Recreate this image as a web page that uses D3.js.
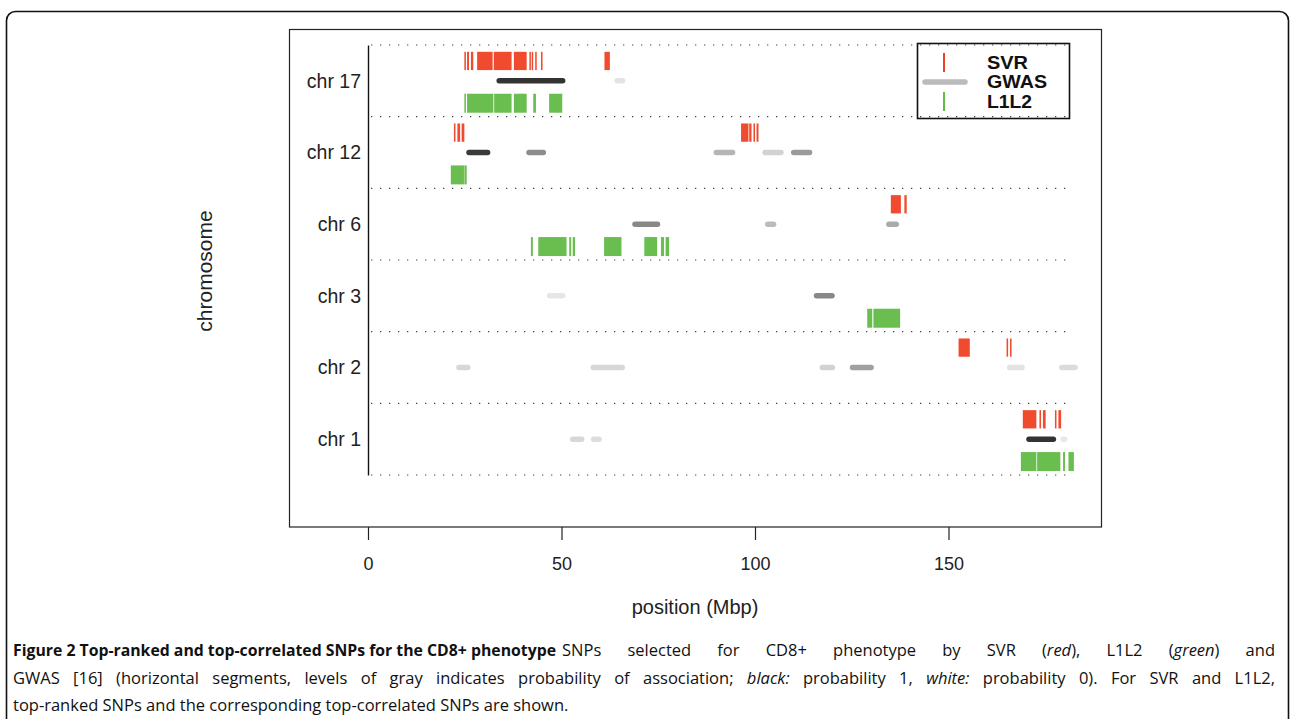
<!DOCTYPE html>
<html>
<head>
<meta charset="utf-8">
<script src="https://cdn.jsdelivr.net/npm/d3@7"></script>
<style>
  body { margin: 0; background: #fff; }
  #chart { position: relative; width: 1290px; height: 719px; overflow: hidden; }
</style>
</head>
<body>
<div id="chart"></div>
<script>
// chromosomes, bottom to top
const chromosomes = ["chr 1", "chr 2", "chr 3", "chr 6", "chr 12", "chr 17"];
const xTicks = [0, 50, 100, 150];
const chromExtent = [0, 181.5];

// SVR top-ranked SNPs: [chromosome, start, end] (Mbp)
const svrSnps = [
  ["chr 17", 24.9, 25.3], ["chr 17", 25.6, 26.1], ["chr 17", 26.6, 27.2], ["chr 17", 28.2, 32.2],
  ["chr 17", 32.5, 37.1], ["chr 17", 37.7, 41.0], ["chr 17", 41.7, 42.0], ["chr 17", 42.3, 42.6],
  ["chr 17", 43.2, 43.6], ["chr 17", 44.7, 45.1], ["chr 17", 61.1, 62.5],
  ["chr 12", 22.2, 22.6], ["chr 12", 23.1, 23.8], ["chr 12", 24.2, 24.9], ["chr 12", 96.4, 98.3],
  ["chr 12", 98.5, 99.1], ["chr 12", 99.6, 100.0], ["chr 12", 100.4, 100.9],
  ["chr 6", 135.1, 137.7], ["chr 6", 138.6, 139.2],
  ["chr 2", 152.6, 155.5], ["chr 2", 165.0, 165.4], ["chr 2", 165.9, 166.3],
  ["chr 1", 169.2, 172.7], ["chr 1", 173.5, 173.9], ["chr 1", 174.4, 175.1],
  ["chr 1", 177.5, 177.9], ["chr 1", 178.4, 179.1]
];

// L1L2 top-ranked SNPs: [chromosome, start, end] (Mbp)
const l1l2Snps = [
  ["chr 17", 24.9, 25.3], ["chr 17", 25.6, 32.4], ["chr 17", 32.6, 37.1], ["chr 17", 37.7, 41.0],
  ["chr 17", 42.7, 43.4], ["chr 17", 46.8, 50.2],
  ["chr 12", 21.4, 24.8], ["chr 12", 24.9, 25.5],
  ["chr 6", 42.1, 42.6], ["chr 6", 44.0, 51.3], ["chr 6", 52.0, 52.5], ["chr 6", 52.9, 53.5],
  ["chr 6", 61.0, 65.5], ["chr 6", 71.4, 74.7], ["chr 6", 75.7, 76.5], ["chr 6", 76.9, 77.8],
  ["chr 3", 129.0, 130.3], ["chr 3", 130.6, 137.5],
  ["chr 1", 168.7, 172.7], ["chr 1", 172.9, 178.9], ["chr 1", 179.6, 180.1], ["chr 1", 181.0, 182.4]
];

// GWAS segments: [chromosome, start, end, probability of association]
const gwasSegments = [
  ["chr 17", 33.9, 50.3, 0.96], ["chr 17", 64.4, 65.8, 0.13],
  ["chr 12", 26.1, 30.9, 0.93], ["chr 12", 41.6, 45.3, 0.54], ["chr 12", 90.0, 94.2, 0.35],
  ["chr 12", 102.6, 106.7, 0.21], ["chr 12", 110.0, 114.1, 0.47],
  ["chr 6", 69.0, 74.8, 0.56], ["chr 6", 103.3, 104.8, 0.32], ["chr 6", 134.6, 136.5, 0.40],
  ["chr 3", 46.9, 50.3, 0.12], ["chr 3", 115.9, 119.9, 0.56],
  ["chr 2", 23.5, 25.8, 0.19], ["chr 2", 58.2, 65.7, 0.19], ["chr 2", 117.4, 120.0, 0.21],
  ["chr 2", 125.2, 130.0, 0.45], ["chr 2", 165.8, 169.0, 0.13], ["chr 2", 179.3, 182.7, 0.17],
  ["chr 1", 52.9, 55.2, 0.19], ["chr 1", 58.3, 59.7, 0.16], ["chr 1", 170.8, 177.1, 0.96],
  ["chr 1", 179.6, 180.0, 0.11]
];

const legendLabels = ["SVR", "GWAS", "L1L2"];

// caption title and text lines: [text, style] pieces
const captionTitle = "Figure 2 Top-ranked and top-correlated SNPs for the CD8+ phenotype";
const captionLines = [
  [["SNPs selected for CD8+ phenotype by SVR (", ""], ["red", "i"], ["), L1L2 (", ""],
   ["green", "i"], [") and", ""]],
  [["GWAS [16] (horizontal segments, levels of gray indicates probability of association; ", ""],
   ["black:", "i"], [" probability 1, ", ""], ["white:", "i"],
   [" probability 0). For SVR and L1L2,", ""]],
  [["top-ranked SNPs and the corresponding top-correlated SNPs are shown.", ""]]
];

const RED = "#ef4123", GREEN = "#62bb46";
const font = "'Liberation Sans', Arial, sans-serif";

const svg = d3.select("#chart").append("svg")
  .attr("width", 1290).attr("height", 719);

const x = d3.scaleLinear().domain([0, 150]).range([368, 948.5]);
const y = d3.scaleLinear().domain([-0.5, chromosomes.length - 0.5]).range([475, 45]);
const row = c => chromosomes.indexOf(c);
const gray = d3.scaleLinear().domain([0, 1]).range(["#ffffff", "#2b2b2b"]);

// outer figure frame
svg.append("rect")
  .attr("x", 6.5).attr("y", 11.5).attr("width", 1282).attr("height", 800).attr("rx", 9)
  .attr("fill", "none").attr("stroke", "#111").attr("stroke-width", 1.6);

// plot box
svg.append("rect")
  .attr("x", 289.5).attr("y", 29.5).attr("width", 812).attr("height", 497.5)
  .attr("fill", "none").attr("stroke", "#222").attr("stroke-width", 1.2);

// dotted separators between chromosomes
const bounds = chromosomes.map((c, i) => i - 0.5).concat(chromosomes.length - 0.5);
svg.append("g").selectAll("line").data(bounds).join("line")
  .attr("x1", x(chromExtent[0]) + 3).attr("x2", x(chromExtent[1]))
  .attr("y1", d => y(d)).attr("y2", d => y(d))
  .attr("stroke", "#444").attr("stroke-width", 1.1)
  .attr("stroke-dasharray", "1.3,7.7");

// x axis
const xAxis = svg.append("g")
  .attr("transform", "translate(0,527)")
  .call(d3.axisBottom(x).tickValues(xTicks).tickSize(13).tickPadding(17));
xAxis.select(".domain").remove();
xAxis.selectAll("line").attr("stroke", "#222").attr("stroke-width", 1.2);
xAxis.selectAll("text").attr("font-family", font).attr("font-size", 18).attr("fill", "#222");

// y axis
const yAxis = svg.append("g")
  .attr("transform", `translate(${x(0)},0)`)
  .call(d3.axisLeft(y).tickValues(d3.range(chromosomes.length))
    .tickFormat(i => chromosomes[i]).tickSize(0).tickPadding(7));
yAxis.select(".domain").attr("stroke", "#111").attr("stroke-width", 1.4);
yAxis.selectAll("text").attr("font-family", font).attr("font-size", 19.5).attr("fill", "#222");

// GWAS segments
svg.append("g").selectAll("line").data(gwasSegments).join("line")
  .attr("x1", d => x(d[1])).attr("x2", d => x(d[2]))
  .attr("y1", d => y(row(d[0]))).attr("y2", d => y(row(d[0])))
  .attr("stroke", d => gray(d[3])).attr("stroke-width", 5.5)
  .attr("stroke-linecap", "round");

// SVR bars (upper)
svg.append("g").selectAll("rect").data(svrSnps).join("rect")
  .attr("x", d => x(d[1]))
  .attr("width", d => Math.max(1.5, x(d[2]) - x(d[1])))
  .attr("y", d => y(row(d[0]) + 0.405))
  .attr("height", d => y(row(d[0]) + 0.15) - y(row(d[0]) + 0.405))
  .attr("fill", RED).attr("opacity", 0.95);

// L1L2 bars (lower)
svg.append("g").selectAll("rect").data(l1l2Snps).join("rect")
  .attr("x", d => x(d[1]))
  .attr("width", d => Math.max(1.5, x(d[2]) - x(d[1])))
  .attr("y", d => y(row(d[0]) - 0.18))
  .attr("height", d => y(row(d[0]) - 0.445) - y(row(d[0]) - 0.18))
  .attr("fill", GREEN).attr("opacity", 0.95);

// axis titles
svg.append("text")
  .attr("transform", "translate(212,271) rotate(-90)")
  .attr("text-anchor", "middle").attr("font-family", font).attr("font-size", 21)
  .attr("fill", "#222").text("chromosome");
svg.append("text")
  .attr("x", 695).attr("y", 614)
  .attr("text-anchor", "middle").attr("font-family", font).attr("font-size", 20)
  .attr("fill", "#222").text("position (Mbp)");

// legend
const lg = svg.append("g");
lg.append("rect").attr("x", 917.5).attr("y", 43.5).attr("width", 152).attr("height", 75)
  .attr("fill", "none").attr("stroke", "#111").attr("stroke-width", 1.6);
lg.append("line").attr("x1", 944).attr("x2", 944).attr("y1", 53).attr("y2", 72)
  .attr("stroke", RED).attr("stroke-width", 2);
lg.append("line").attr("x1", 925).attr("x2", 965).attr("y1", 82).attr("y2", 82)
  .attr("stroke", gray(0.32)).attr("stroke-width", 5.5).attr("stroke-linecap", "round");
lg.append("line").attr("x1", 944).attr("x2", 944).attr("y1", 92).attr("y2", 111)
  .attr("stroke", GREEN).attr("stroke-width", 2);
lg.selectAll("text.lab").data(legendLabels).join("text")
  .attr("class", "lab")
  .attr("x", 987).attr("y", (d, i) => 68.5 + i * 19.5)
  .attr("font-family", font).attr("font-size", 17.5).attr("font-weight", "bold")
  .attr("textLength", (d, i) => [41, 60, 45][i]).attr("lengthAdjust", "spacingAndGlyphs")
  .attr("fill", "#111").text(d => d);

// caption (justified by widening word spaces)
function justify(t, target) {
  const natural = t.node().getComputedTextLength();
  const spaces = (t.text().match(/ /g) || []).length;
  t.attr("word-spacing", Math.max(0, (target - natural) / spaces));
}
const cap = svg.append("g").attr("font-family", "'Open Sans', sans-serif")
  .attr("font-size", 16.5).attr("fill", "#111");
cap.append("text").attr("x", 13).attr("y", 656)
  .attr("font-weight", "bold").attr("textLength", 543).attr("lengthAdjust", "spacingAndGlyphs")
  .text(captionTitle);
captionLines.forEach((pieces, i) => {
  const t = cap.append("text").attr("x", i === 0 ? 562 : 13).attr("y", 656 + i * 27.5);
  pieces.forEach(([s, st]) => {
    t.append("tspan")
      .attr("font-style", st === "i" ? "italic" : null)
      .text(s);
  });
  if (i === 0) justify(t, 713);
  if (i === 1) justify(t, 1262);
});
</script>
</body>
</html>
